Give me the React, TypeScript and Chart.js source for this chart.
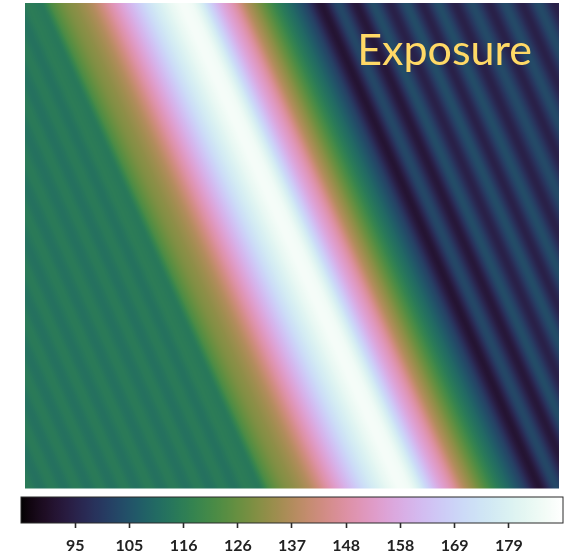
import { useEffect, useRef } from 'react';
import { Chart, registerables } from 'chart.js';

Chart.register(...registerables);

// Exposure sampled across the bands; u = x - bandSlope * y in grid units
const bandU = [
  -227, -215, -203, -191, -179, -167, -155, -143, -131, -119,
  -107, -94, -82, -70, -57, -45, -33, -21, -9, 3,
  15, 27, 40, 53, 66, 75, 84, 92, 100, 108,
  117, 127, 137, 147, 157, 165, 173, 183, 195, 209,
  221, 229, 238, 253, 269, 280, 296, 313, 331, 348,
  365, 381, 397, 413, 430, 447, 464, 480, 497, 513,
  530, 540,
];
const bandExposure = [
  112.3, 114.8, 112.2, 114.8, 112.2, 114.8, 112.2, 114.8, 112.2, 114.8,
  112.2, 114.8, 112.2, 114.8, 112.2, 114.8, 112.2, 114.8, 112.4, 115.2,
  114, 123, 129, 132.5, 137, 142, 148, 153, 158, 163,
  169, 175, 180, 184.5, 187, 186, 181, 170, 158, 148,
  137, 132, 126, 116, 108, 102, 91, 103, 92, 104,
  94.5, 104, 94.5, 104, 94.5, 103.5, 94.5, 103.5, 94.5, 103.5,
  94.5, 98,
];
const bandSlope = 0.45;

const gridWidth = 534;
const gridHeight = 485.5;

const exposureMin = 84.2;
const exposureMax = 189.8;
const colorbarLabels = [95, 105, 116, 126, 137, 148, 158, 169, 179];

// cubehelix colour scale (start 0.5, rotations -1.5, hue 1, gamma 0.8)
function cubehelix(t: number): string {
  const x = Math.min(1, Math.max(0, t));
  const xg = Math.pow(x, 0.8);
  const a = (xg * (1 - xg)) / 2;
  const phi = 2 * Math.PI * (0.5 / 3 - 1.5 * x);
  const c = Math.cos(phi);
  const s = Math.sin(phi);
  const ch = [
    xg + a * (-0.14861 * c + 1.78277 * s),
    xg + a * (-0.29227 * c - 0.90649 * s),
    xg + a * (1.97294 * c),
  ].map((v) => Math.round(255 * Math.min(1, Math.max(0, v))));
  return `rgb(${ch[0]},${ch[1]},${ch[2]})`;
}

function exposureColor(v: number): string {
  return cubehelix((v - exposureMin) / (exposureMax - exposureMin));
}

// monotone cubic Hermite through the sampled profile
function monotone(xs: number[], ys: number[]) {
  const n = xs.length;
  const d: number[] = [];
  const m: number[] = new Array(n).fill(0);
  for (let i = 0; i < n - 1; i++) d.push((ys[i + 1] - ys[i]) / (xs[i + 1] - xs[i]));
  m[0] = d[0];
  m[n - 1] = d[n - 2];
  for (let i = 1; i < n - 1; i++) {
    if (d[i - 1] * d[i] <= 0) m[i] = 0;
    else {
      const h0 = xs[i] - xs[i - 1];
      const h1 = xs[i + 1] - xs[i];
      const w1 = 2 * h1 + h0;
      const w2 = h1 + 2 * h0;
      m[i] = (w1 + w2) / (w1 / d[i - 1] + w2 / d[i]);
    }
  }
  return (x: number) => {
    if (x <= xs[0]) return ys[0];
    if (x >= xs[n - 1]) return ys[n - 1];
    let i = 0;
    while (x > xs[i + 1]) i++;
    const h = xs[i + 1] - xs[i];
    const t = (x - xs[i]) / h;
    const t2 = t * t;
    const t3 = t2 * t;
    return (
      (2 * t3 - 3 * t2 + 1) * ys[i] +
      (t3 - 2 * t2 + t) * h * m[i] +
      (-2 * t3 + 3 * t2) * ys[i + 1] +
      (t3 - t2) * h * m[i + 1]
    );
  };
}

const bandFieldPlugin = {
  id: 'bandField',
  beforeDatasetsDraw(chart: any) {
    const { ctx, chartArea, scales } = chart;
    const xs = scales.x;
    const ys = scales.y;
    const y0 = ys.getPixelForValue(0);
    const x0 = xs.getPixelForValue(0);
    const dx = xs.getPixelForValue(bandSlope * gridHeight) - x0;
    const dy = ys.getPixelForValue(gridHeight) - y0;
    const len = Math.hypot(dx, dy);
    let nx = dy / len;
    let ny = -dx / len;
    if (nx < 0) {
      nx = -nx;
      ny = -ny;
    }
    const uStart = -bandSlope * gridHeight;
    const uEnd = gridWidth;
    const sx = xs.getPixelForValue(uStart);
    const ex = xs.getPixelForValue(uEnd);
    const dist = (ex - sx) * nx;
    const grad = ctx.createLinearGradient(sx, y0, sx + nx * dist, y0 + ny * dist);
    const f = monotone(bandU, bandExposure);
    const steps = Math.ceil(uEnd - uStart);
    for (let k = 0; k <= steps; k++) {
      const u = uStart + ((uEnd - uStart) * k) / steps;
      grad.addColorStop(k / steps, exposureColor(f(u)));
    }
    ctx.save();
    ctx.fillStyle = grad;
    ctx.fillRect(chartArea.left, chartArea.top, chartArea.right - chartArea.left, chartArea.bottom - chartArea.top);
    ctx.restore();
  },
  afterDraw(chart: any) {
    const { ctx, chartArea } = chart;
    ctx.save();
    ctx.font = '43px Lato';
    ctx.fillStyle = '#FFD966';
    ctx.textBaseline = 'alphabetic';
    ctx.textAlign = 'right';
    ctx.fillText('Exposure', chartArea.right - 27, chartArea.top + 62);
    ctx.restore();
  },
};

const colorbarPlugin = {
  id: 'colorbarFill',
  beforeDatasetsDraw(chart: any) {
    const { ctx, chartArea, scales } = chart;
    const xs = scales.x;
    const left = xs.getPixelForValue(exposureMin);
    const right = xs.getPixelForValue(exposureMax);
    const grad = ctx.createLinearGradient(left, 0, right, 0);
    const steps = 256;
    for (let k = 0; k <= steps; k++) {
      const v = exposureMin + ((exposureMax - exposureMin) * k) / steps;
      grad.addColorStop(k / steps, exposureColor(v));
    }
    ctx.save();
    ctx.fillStyle = grad;
    ctx.fillRect(chartArea.left, chartArea.top, chartArea.right - chartArea.left, chartArea.bottom - chartArea.top);
    ctx.strokeStyle = '#2b2b2b';
    ctx.lineWidth = 1;
    ctx.strokeRect(chartArea.left, chartArea.top, chartArea.right - chartArea.left, chartArea.bottom - chartArea.top);
    ctx.restore();
  },
};

export default function App() {
  const heatRef = useRef<HTMLCanvasElement>(null);
  const barRef = useRef<HTMLCanvasElement>(null);

  useEffect(() => {
    const heat = new Chart(heatRef.current!, {
      type: 'scatter',
      data: { datasets: [] },
      options: {
        animation: false,
        responsive: false,
        layout: { padding: { left: 25, right: 11, top: 3, bottom: 1.5 } },
        plugins: { legend: { display: false }, tooltip: { enabled: false } },
        scales: {
          x: { type: 'linear', min: 0, max: gridWidth, display: false },
          y: { type: 'linear', min: 0, max: gridHeight, reverse: true, display: false },
        },
      },
      plugins: [bandFieldPlugin],
    });

    const bar = new Chart(barRef.current!, {
      type: 'scatter',
      data: { datasets: [] },
      options: {
        animation: false,
        responsive: false,
        layout: { padding: { left: 21, right: 7, top: 7, bottom: 0 } },
        plugins: { legend: { display: false }, tooltip: { enabled: false } },
        scales: {
          x: {
            type: 'linear',
            position: 'bottom',
            min: exposureMin,
            max: exposureMax,
            afterBuildTicks: (scale: any) => {
              const step = (exposureMax - exposureMin) / (colorbarLabels.length + 1);
              scale.ticks = colorbarLabels.map((_, i) => ({ value: exposureMin + (i + 1) * step }));
            },
            afterFit: (scale: any) => {
              scale.height = 33;
            },
            border: { display: false },
            grid: {
              display: true,
              drawOnChartArea: false,
              drawTicks: true,
              tickLength: 5,
              tickWidth: 1.6,
              tickColor: '#2b2b2b',
            },
            ticks: {
              autoSkip: false,
              maxRotation: 0,
              padding: 8,
              color: '#222222',
              font: { family: 'Lato', weight: 'bold', size: 16 },
              callback: (_v: any, i: number) => String(colorbarLabels[i]),
            },
          },
          y: { display: false, min: 0, max: 1 },
        },
      },
      plugins: [colorbarPlugin],
    });

    return () => {
      heat.destroy();
      bar.destroy();
    };
  }, []);

  return (
    <div style={{ position: 'fixed', left: 0, top: 0, width: 570, height: 556, background: '#fff' }}>
      <canvas
        ref={heatRef}
        width={570}
        height={490}
        style={{ position: 'absolute', left: 0, top: 0, width: 570, height: 490 }}
      />
      <canvas
        ref={barRef}
        width={570}
        height={66}
        style={{ position: 'absolute', left: 0, top: 490, width: 570, height: 66 }}
      />
    </div>
  );
}
